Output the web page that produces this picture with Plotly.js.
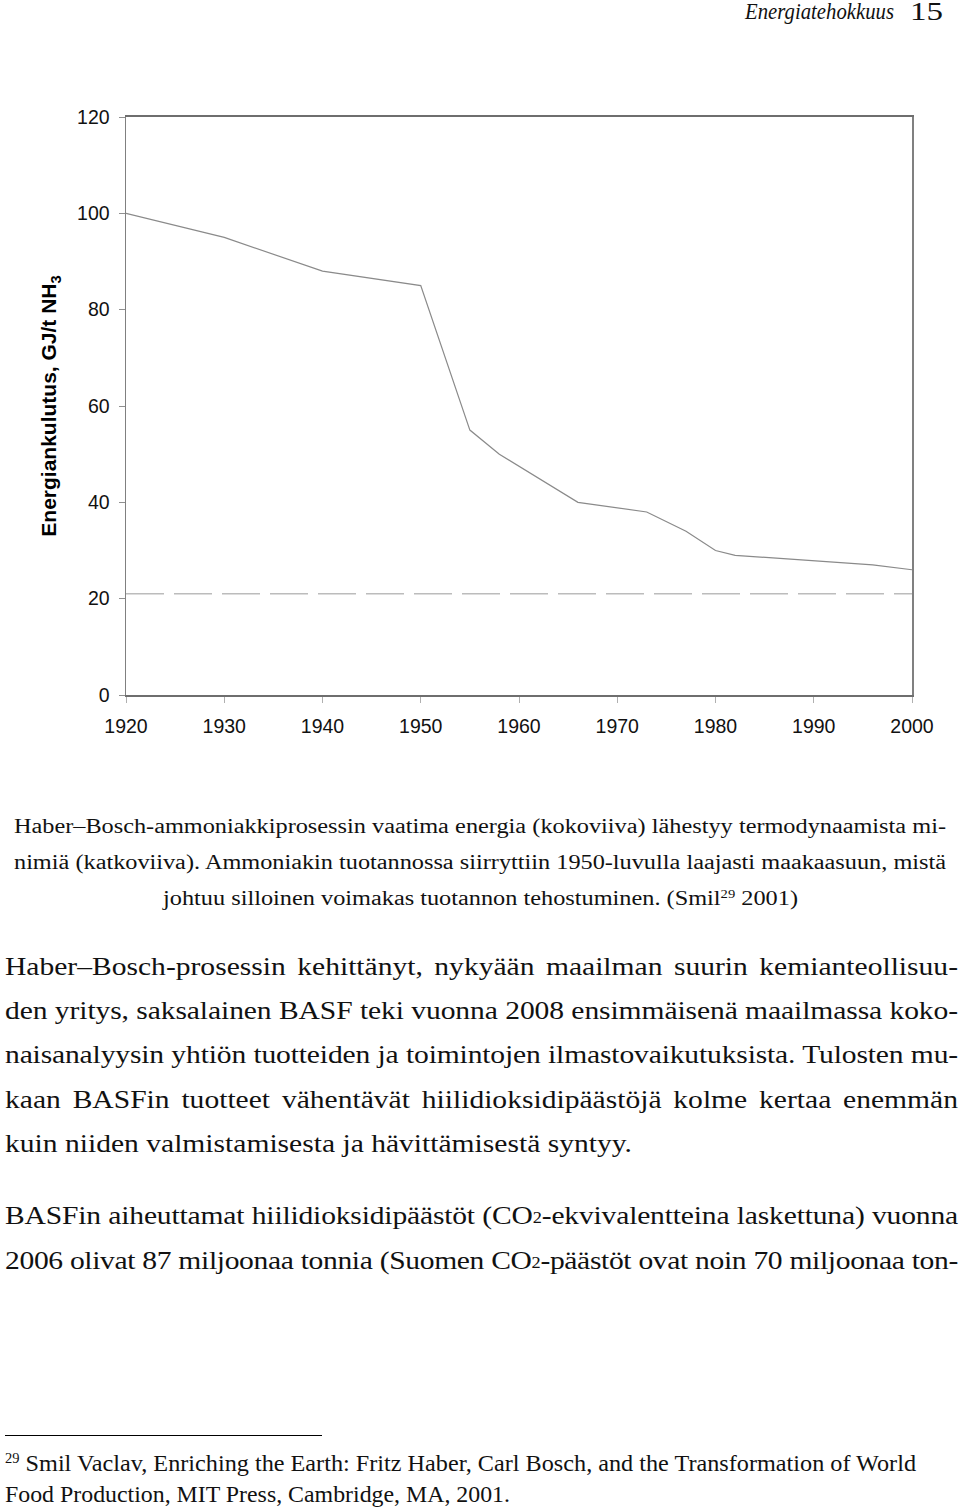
<!DOCTYPE html>
<html>
<head>
<meta charset="utf-8">
<script src="https://cdn.plot.ly/plotly-3.0.1.min.js"></script>
<style>
  html, body { margin: 0; padding: 0; background: #fff; }
  body { width: 960px; height: 1508px; position: relative; overflow: hidden; }
  #chart { position: absolute; left: 0; top: 0; width: 960px; height: 770px; z-index: 1; }
  .ln { position: absolute; white-space: nowrap; font-family: "Liberation Serif", "DejaVu Serif", serif; color: #111; transform-origin: 0 50%; z-index: 2; }
  .ln span { white-space: nowrap; }
  .ln sup { font-size: 0.6em; vertical-align: 0.55em; line-height: 1; }
  .ln sub { font-size: 0.62em; vertical-align: 0.05em; line-height: 1; }
  .hd1 { font-size: 23px; line-height: 28px; height: 28px; font-style: italic; }
  .hd2 { font-size: 26px; line-height: 28px; height: 28px; }
  .cap { font-size: 20px; line-height: 24px; height: 24px; }
  .bod { font-size: 26px; line-height: 30px; height: 30px; }
  .fn { font-size: 23px; line-height: 26px; height: 26px; }
  .just { text-align: justify; text-align-last: justify; }
  #rule { position: absolute; left: 5px; top: 1435px; width: 317px; height: 0; border-top: 1.2px solid #000; z-index: 2; }
</style>
</head>
<body>
<div id="chart"></div>
<div class="ln hd1" data-b="h1" data-l="745" data-w="149" data-c="12"><span>Energiatehokkuus</span></div>
<div class="ln hd2" data-b="h2" data-l="910" data-w="33" data-c="12"><span>15</span></div>

<div class="ln cap just" data-b="cap" data-l="14" data-w="932" data-c="826"><span>Haber–Bosch-ammoniakkiprosessin vaatima energia (kokoviiva) lähestyy termodynaamista mi-</span></div>
<div class="ln cap just" data-b="cap" data-l="14" data-w="932" data-c="862"><span>nimiä (katkoviiva). Ammoniakin tuotannossa siirryttiin 1950-luvulla laajasti maakaasuun, mistä</span></div>
<div class="ln cap ref" data-b="cap" data-l="163" data-w="635" data-c="898"><span>johtuu silloinen voimakas tuotannon tehostuminen. (Smil<sup>29</sup> 2001)</span></div>

<div class="ln bod just" data-b="bod" data-l="5" data-w="953" data-c="967"><span>Haber–Bosch-prosessin kehittänyt, nykyään maailman suurin kemianteollisuu-</span></div>
<div class="ln bod just" data-b="bod" data-l="5" data-w="953" data-c="1011"><span>den yritys, saksalainen BASF teki vuonna 2008 ensimmäisenä maailmassa koko-</span></div>
<div class="ln bod just" data-b="bod" data-l="5" data-w="953" data-c="1055"><span>naisanalyysin yhtiön tuotteiden ja toimintojen ilmastovaikutuksista. Tulosten mu-</span></div>
<div class="ln bod just" data-b="bod" data-l="5" data-w="953" data-c="1100"><span>kaan BASFin tuotteet vähentävät hiilidioksidipäästöjä kolme kertaa enemmän</span></div>
<div class="ln bod ref" data-b="bod" data-l="5" data-w="627" data-c="1144"><span>kuin niiden valmistamisesta ja hävittämisestä syntyy.</span></div>
<div class="ln bod just" data-b="bod" data-l="5" data-w="953" data-c="1216"><span>BASFin aiheuttamat hiilidioksidipäästöt (CO<sub>2</sub>-ekvivalentteina laskettuna) vuonna</span></div>
<div class="ln bod just" data-b="bod" data-l="5" data-w="953" data-c="1261"><span>2006 olivat 87 miljoonaa tonnia (Suomen CO<sub>2</sub>-päästöt ovat noin 70 miljoonaa ton-</span></div>

<div id="rule"></div>
<div class="ln fn" data-b="fn1" data-l="5" data-w="911" data-c="1464"><span><sup>29</sup> Smil Vaclav, Enriching the Earth: Fritz Haber, Carl Bosch, and the Transformation of World</span></div>
<div class="ln fn ref" data-b="fn" data-l="5" data-w="505" data-c="1495"><span>Food Production, MIT Press, Cambridge, MA, 2001.</span></div>

<script>
// ---- Data ----
const years = [1920, 1930, 1940, 1950, 1955, 1958, 1966, 1973, 1977, 1980, 1982, 1996, 2000];
const energy = [100, 95, 88, 85, 55, 50, 40, 38, 34, 30, 29, 27, 26];
const minYears = [1920, 2000];
const minEnergy = [21, 21];
const xTicks = [1920, 1930, 1940, 1950, 1960, 1970, 1980, 1990, 2000];
const yTicks = [0, 20, 40, 60, 80, 100, 120];
const yTitle = "<b>Energiankulutus, GJ/t NH<sub>3</sub></b>";

const traces = [
  { x: minYears, y: minEnergy, type: "scatter", mode: "lines",
    line: { color: "#bcbcbc", width: 1.5, dash: "38px,10px" }, hoverinfo: "skip" },
  { x: years, y: energy, type: "scatter", mode: "lines",
    line: { color: "#8a8a8a", width: 1.2 }, hoverinfo: "skip" }
];

const layout = {
  width: 960, height: 770,
  margin: { l: 126, r: 48, t: 117, b: 75 },
  paper_bgcolor: "rgba(0,0,0,0)", plot_bgcolor: "#fff",
  showlegend: false,
  font: { family: "Liberation Sans, Arial, sans-serif", color: "#111", size: 19 },
  xaxis: {
    range: [1920, 2000], tickvals: xTicks, ticktext: xTicks.map(String),
    showgrid: false, zeroline: false,
    showline: true, mirror: true, linecolor: "#6e6e6e", linewidth: 1.6,
    ticks: "outside", ticklen: 6, tickcolor: "#b0b0b0", tickwidth: 1,
    ticklabelstandoff: 7,
    tickfont: { size: 19.5 }
  },
  yaxis: {
    range: [0, 120], tickvals: yTicks, ticktext: yTicks.map(String),
    showgrid: false, zeroline: false,
    showline: true, mirror: true, linecolor: "#808080", linewidth: 1.5,
    ticks: "outside", ticklen: 6, tickcolor: "#909090", tickwidth: 1,
    ticklabelstandoff: 5,
    tickfont: { size: 19.5 },
    title: { text: yTitle, font: { size: 21, color: "#000" }, standoff: 14 }
  }
};

Plotly.newPlot("chart", traces, layout, { displayModeBar: false, staticPlot: true });

// ---- Text line fitting: each block gets a horizontal scale taken from its un-justified line ----
const lines = Array.from(document.querySelectorAll(".ln"));
const scales = {};
lines.forEach(el => {
  const h = parseFloat(getComputedStyle(el).height);
  el.style.left = el.dataset.l + "px";
  el.style.top = (+el.dataset.c - h / 2) + "px";
});
lines.filter(el => !el.classList.contains("just")).forEach(el => {
  const nat = el.firstElementChild.getBoundingClientRect().width;
  const s = (+el.dataset.w) / nat;
  el.style.transform = "scaleX(" + s + ")";
  if (el.classList.contains("ref")) scales[el.dataset.b] = s;
});
lines.filter(el => el.classList.contains("just")).forEach(el => {
  const s = scales[el.dataset.b] || 1;
  const span = el.firstElementChild;
  const inner = (+el.dataset.w) / s;
  const nat = span.getBoundingClientRect().width;
  if (nat > inner) {
    const n = span.textContent.length;
    span.style.letterSpacing = (-(nat - inner + 1) / n) + "px";
  }
  el.style.width = inner + "px";
  span.style.whiteSpace = "normal";
  el.style.whiteSpace = "normal";
  el.style.transform = "scaleX(" + s + ")";
});
</script>
</body>
</html>
